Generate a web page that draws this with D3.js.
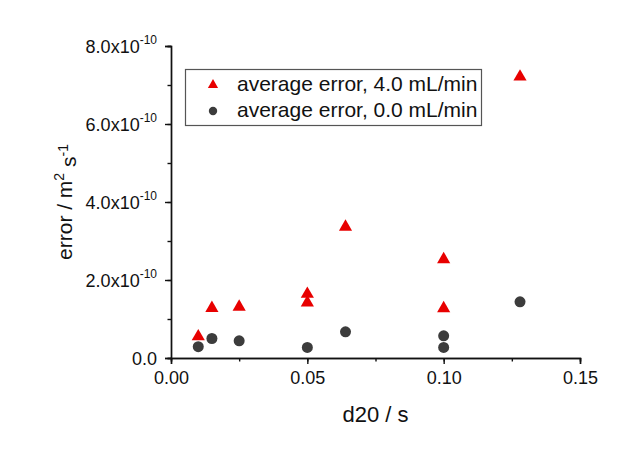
<!DOCTYPE html>
<html>
<head>
<meta charset="utf-8">
<script src="https://cdn.jsdelivr.net/npm/d3@7"></script>
<style>
  html, body { margin: 0; padding: 0; background: #ffffff; }
  svg { display: block; font-family: "Liberation Sans", Arial, sans-serif; }
</style>
</head>
<body>
<svg id="chart" width="625" height="452"></svg>
<script>
// ---- data ----
const seriesNames = ["average error, 4.0 mL/min", "average error, 0.0 mL/min"];
const xHigh = [0.010, 0.015, 0.025, 0.050, 0.050, 0.064, 0.100, 0.100, 0.128];
const yHigh = [0.55e-10, 1.28e-10, 1.31e-10, 1.64e-10, 1.42e-10, 3.36e-10, 2.53e-10, 1.27e-10, 7.21e-10];
const xZero = [0.010, 0.015, 0.025, 0.050, 0.064, 0.100, 0.100, 0.128];
const yZero = [0.29e-10, 0.50e-10, 0.44e-10, 0.27e-10, 0.67e-10, 0.57e-10, 0.27e-10, 1.44e-10];
const xTicks = [0.00, 0.05, 0.10, 0.15];
const xTickLabels = ["0.00", "0.05", "0.10", "0.15"];
const yTicks = [0, 2e-10, 4e-10, 6e-10, 8e-10];
const yTickMant = ["0.0", "2.0", "4.0", "6.0", "8.0"];
const yTickExp = ["", "-10", "-10", "-10", "-10"];

// ---- layout ----
const svg = d3.select("#chart");
const x = d3.scaleLinear().domain([0, 0.15]).range([171, 580]);
const y = d3.scaleLinear().domain([0, 8e-10]).range([358, 46]);
const red = "#e80000", dark = "#3c3c3c";

// axes
const xAxis = d3.axisBottom(x).tickValues(xTicks).tickFormat((d, i) => xTickLabels[i]).tickSizeOuter(0).tickSize(6).tickPadding(5);
const xMinor = d3.axisBottom(x).tickValues(d3.range(0, 0.1501, 0.025)).tickFormat("").tickSizeOuter(0).tickSize(3.5);
const yAxis = d3.axisLeft(y).tickValues(yTicks).tickFormat("").tickSizeOuter(0).tickSize(6);
const yMinor = d3.axisLeft(y).tickValues(d3.range(0, 8.01e-10, 1e-10)).tickFormat("").tickSizeOuter(0).tickSize(3.5);

const gx = svg.append("g").attr("transform", `translate(0,${y(0)})`).call(xAxis);
svg.append("g").attr("transform", `translate(0,${y(0)})`).call(xMinor);
const gy = svg.append("g").attr("transform", `translate(${x(0)},0)`).call(yAxis);
svg.append("g").attr("transform", `translate(${x(0)},0)`).call(yMinor);

svg.selectAll(".domain, .tick line").attr("stroke", "#111").attr("stroke-width", 1.4);
gx.selectAll(".tick text").attr("font-size", 18).attr("fill", "#111")
  .attr("font-family", "'Liberation Sans', Arial, sans-serif").attr("dy", "0.85em");

// y tick labels with superscripts
gy.selectAll(".tick").each(function(d, i) {
  const t = d3.select(this).append("text")
    .attr("x", -14).attr("dy", "0.35em").attr("text-anchor", "end")
    .attr("fill", "#111").attr("font-size", 18)
    .attr("font-family", "'Liberation Sans', Arial, sans-serif");
  if (yTickExp[i]) {
    t.append("tspan").text(yTickMant[i] + "x10");
    t.append("tspan").attr("font-size", 12).attr("dy", "-0.75em").text(yTickExp[i]);
  } else {
    t.text(yTickMant[i]);
  }
});

// axis titles
svg.append("text").attr("x", x(0.075)).attr("y", 422).attr("text-anchor", "middle")
  .attr("font-size", 22).attr("fill", "#111").text("d20 / s");
const yt = svg.append("text").attr("transform", `translate(72,${y(4e-10)}) rotate(-90)`)
  .attr("text-anchor", "middle").attr("font-size", 21).attr("fill", "#111");
yt.append("tspan").text("error / m");
yt.append("tspan").attr("font-size", 14).attr("dy", "-0.6em").text("2");
yt.append("tspan").attr("dy", "0.6em").attr("font-size", 21).text(" s");
yt.append("tspan").attr("font-size", 14).attr("dy", "-0.6em").text("-1");

// marks
const tri = d3.symbol().type(d3.symbolTriangle).size(75);
const circ = d3.symbol().type(d3.symbolCircle).size(95);

svg.append("g").selectAll("path").data(xHigh.map((v, i) => [v, yHigh[i]])).join("path")
  .attr("d", tri).attr("fill", red)
  .attr("transform", d => `translate(${x(d[0])},${y(d[1])})`);
svg.append("g").selectAll("path").data(xZero.map((v, i) => [v, yZero[i]])).join("path")
  .attr("d", circ).attr("fill", dark)
  .attr("transform", d => `translate(${x(d[0])},${y(d[1])})`);

// legend
const lg = svg.append("g");
lg.append("rect").attr("x", 185.5).attr("y", 69.5).attr("width", 296).attr("height", 56)
  .attr("fill", "white").attr("stroke", "#555").attr("stroke-width", 1.2);
lg.append("path").attr("d", d3.symbol().type(d3.symbolTriangle).size(45)).attr("fill", red)
  .attr("transform", "translate(213,85)");
lg.append("path").attr("d", d3.symbol().type(d3.symbolCircle).size(55)).attr("fill", dark)
  .attr("transform", "translate(213,111)");
lg.selectAll("text.lt").data(seriesNames).join("text").attr("class", "lt")
  .attr("x", 237).attr("y", (d, i) => 91 + i * 26)
  .attr("font-size", 21).attr("fill", "#111").text(d => d);
</script>
</body>
</html>
